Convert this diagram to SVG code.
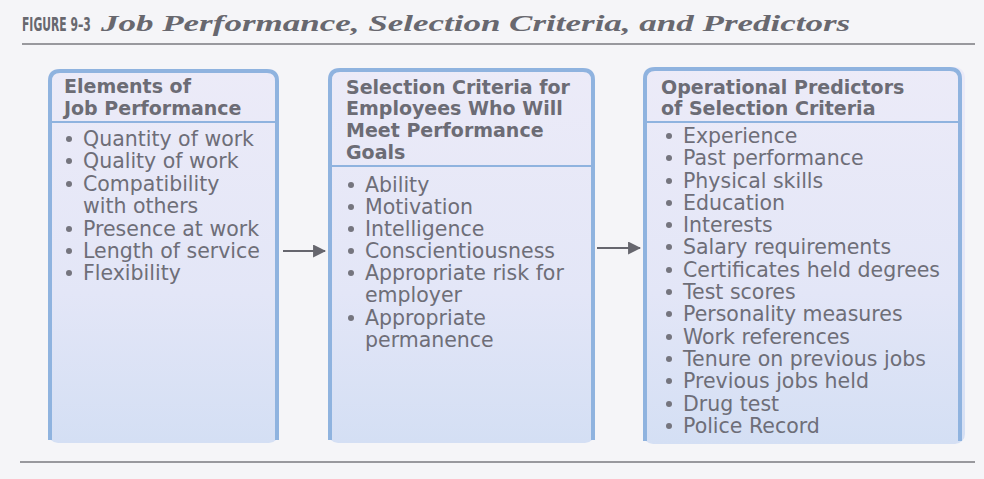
<svg xmlns="http://www.w3.org/2000/svg" width="984" height="479" viewBox="0 0 984 479">
<defs>
<linearGradient id="bg" x1="0" y1="0" x2="0" y2="1">
<stop offset="0" stop-color="#ecebf8"/>
<stop offset="0.6" stop-color="#e3e6f7"/>
<stop offset="1" stop-color="#d4dff4"/>
</linearGradient>
<marker id="ah" viewBox="0 0 12 12" refX="11" refY="6" markerWidth="13" markerHeight="13" markerUnits="userSpaceOnUse" orient="auto">
<path d="M0,0 L12,6 L0,12 z" fill="#66666e"/>
</marker>
</defs>
<style>
.title1{font-family:"DejaVu Sans Condensed","DejaVu Sans",sans-serif;font-weight:bold;font-size:12px;fill:#68686f}
.title2{font-family:"Liberation Serif",serif;font-weight:bold;font-style:italic;font-size:35px;fill:#68686f}
.rule{stroke:#7a7a80;stroke-width:1.6}
.fill{fill:url(#bg)}
.border{fill:none;stroke:#8fb3df;stroke-width:4}
.sep{stroke:#8fb3df;stroke-width:2}
.hd{font-family:"DejaVu Sans",sans-serif;font-weight:bold;font-size:19px;fill:#6c6c75}
.it{font-family:"DejaVu Sans",sans-serif;font-size:20.5px;fill:#6e6e78}
.dot{fill:#75757e}
.conn{stroke:#66666e;stroke-width:2.2;fill:none}
</style>
<rect width="984" height="479" fill="#f5f5f8"/>
<text class="title1" transform="translate(22,31) scale(1,1.58)">FIGURE 9–3</text>
<text class="title2" transform="translate(101,31) scale(1,0.686)">Job Performance, Selection Criteria, and Predictors</text>
<line class="rule" x1="22" y1="44" x2="975" y2="44"/>
<line class="rule" x1="20" y1="462" x2="975" y2="462"/>

<g id="node-elements">
<rect class="fill" x="48" y="69" width="231" height="374" rx="10"/>
<path class="border" d="M50,440 V81 Q50,71 60,71 H267 Q277,71 277,81 V440"/>
<line class="sep" x1="50" y1="122" x2="277" y2="122"/>
<text class="hd" x="64" y="93">Elements of</text>
<text class="hd" x="64" y="115">Job Performance</text>
<g class="dot"><circle cx="69" cy="139" r="3"/><circle cx="69" cy="161" r="3"/><circle cx="69" cy="184" r="3"/><circle cx="69" cy="229" r="3"/><circle cx="69" cy="251" r="3"/><circle cx="69" cy="273" r="3"/></g>
<text class="it" x="83" y="146">Quantity of work</text>
<text class="it" x="83" y="168">Quality of work</text>
<text class="it" x="83" y="191">Compatibility</text>
<text class="it" x="83" y="213">with others</text>
<text class="it" x="83" y="236">Presence at work</text>
<text class="it" x="83" y="258">Length of service</text>
<text class="it" x="83" y="280">Flexibility</text>
</g>

<g id="node-criteria">
<rect class="fill" x="328" y="68" width="267" height="375" rx="10"/>
<path class="border" d="M330,440 V80 Q330,70 340,70 H583 Q593,70 593,80 V440"/>
<line class="sep" x1="330" y1="166" x2="593" y2="166"/>
<text class="hd" x="346" y="94">Selection Criteria for</text>
<text class="hd" x="346" y="115">Employees Who Will</text>
<text class="hd" x="346" y="137">Meet Performance</text>
<text class="hd" x="346" y="159">Goals</text>
<g class="dot"><circle cx="351" cy="185" r="3"/><circle cx="351" cy="207" r="3"/><circle cx="351" cy="229" r="3"/><circle cx="351" cy="251" r="3"/><circle cx="351" cy="273" r="3"/><circle cx="351" cy="318" r="3"/></g>
<text class="it" x="365" y="192">Ability</text>
<text class="it" x="365" y="214">Motivation</text>
<text class="it" x="365" y="236">Intelligence</text>
<text class="it" x="365" y="258">Conscientiousness</text>
<text class="it" x="365" y="280">Appropriate risk for</text>
<text class="it" x="365" y="302">employer</text>
<text class="it" x="365" y="325">Appropriate</text>
<text class="it" x="365" y="347">permanence</text>
</g>

<g id="node-predictors">
<rect class="fill" x="643" y="67" width="322" height="377" rx="10"/>
<path class="border" d="M645,441 V79 Q645,69 655,69 H950 Q960,69 960,79 V441"/>
<line class="sep" x1="645" y1="122" x2="960" y2="122"/>
<text class="hd" x="661" y="94">Operational Predictors</text>
<text class="hd" x="661" y="115">of Selection Criteria</text>
<g class="dot">
<circle cx="669" cy="136" r="3"/><circle cx="669" cy="158" r="3"/><circle cx="669" cy="181" r="3"/><circle cx="669" cy="203" r="3"/><circle cx="669" cy="225" r="3"/><circle cx="669" cy="247" r="3"/><circle cx="669" cy="270" r="3"/><circle cx="669" cy="292" r="3"/><circle cx="669" cy="314" r="3"/><circle cx="669" cy="337" r="3"/><circle cx="669" cy="359" r="3"/><circle cx="669" cy="381" r="3"/><circle cx="669" cy="404" r="3"/><circle cx="669" cy="426" r="3"/>
</g>
<text class="it" x="683" y="143">Experience</text>
<text class="it" x="683" y="165">Past performance</text>
<text class="it" x="683" y="188">Physical skills</text>
<text class="it" x="683" y="210">Education</text>
<text class="it" x="683" y="232">Interests</text>
<text class="it" x="683" y="254">Salary requirements</text>
<text class="it" x="683" y="277">Certificates held degrees</text>
<text class="it" x="683" y="299">Test scores</text>
<text class="it" x="683" y="321">Personality measures</text>
<text class="it" x="683" y="344">Work references</text>
<text class="it" x="683" y="366">Tenure on previous jobs</text>
<text class="it" x="683" y="388">Previous jobs held</text>
<text class="it" x="683" y="411">Drug test</text>
<text class="it" x="683" y="433">Police Record</text>
</g>

<g id="connectors">
<line class="conn" x1="283" y1="251" x2="325" y2="251" marker-end="url(#ah)"/>
<line class="conn" x1="597" y1="248" x2="640" y2="248" marker-end="url(#ah)"/>
</g>
</svg>
